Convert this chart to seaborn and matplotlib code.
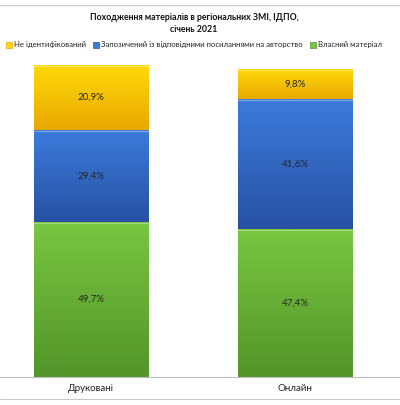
import numpy as np
import pandas as pd
import matplotlib
matplotlib.use("Agg")
import matplotlib.pyplot as plt
import matplotlib.colors as mcolors
from matplotlib.lines import Line2D
import seaborn as sns

# Data
categories = ["Друковані", "Онлайн"]
own = [49.7, 47.4]
borrowed = [29.4, 41.6]
unknown = [20.9, 9.8]
series_names = ["Не ідентифікований",
                "Запозичений із відповідними посиланнями на авторство",
                "Власний матеріал"]

sns.set_theme(style="white")
plt.rcParams["font.family"] = ["Lato", "DejaVu Sans"]

df = pd.DataFrame({"cat": categories, "own": own,
                   "borrowed": borrowed, "unknown": unknown})
df["c_own"] = df["own"]
df["c_borrowed"] = df["own"] + df["borrowed"]
df["c_unknown"] = df["c_borrowed"] + df["unknown"]

# top / bottom gradient colours
grad = {
    "unknown": ("#FFDA0A", "#E9A800"),
    "borrowed": ("#3C7BDB", "#2851A3"),
    "own": ("#79C641", "#53952A"),
}

fig = plt.figure(figsize=(4.0, 4.05), dpi=100)
ax = fig.add_axes([0, 28 / 405, 1, 312 / 405])

bars = {}
for key in ["unknown", "borrowed", "own"]:
    n0 = len(ax.patches)
    sns.barplot(data=df, x="cat", y="c_" + key, color=grad[key][0],
                width=0.56, ax=ax, saturation=1, edgecolor="none",
                linewidth=0)
    bars[key] = ax.patches[n0:]

# gradient fill clipped to each bar segment
for key, lo_col in [("unknown", "c_borrowed"), ("borrowed", "c_own"), ("own", None)]:
    cmap = mcolors.LinearSegmentedColormap.from_list(key, [grad[key][1], grad[key][0]])
    for i, p in enumerate(bars[key]):
        x0 = p.get_x()
        w = p.get_width()
        top = p.get_height()
        bot = df[lo_col][i] if lo_col else 0
        g = np.linspace(0, 1, 100).reshape(-1, 1)
        im = ax.imshow(g, cmap=cmap, aspect="auto", origin="lower",
                       extent=[x0, x0 + w, bot, top], zorder=2)
        rect = plt.Rectangle((x0, bot), w, top - bot, transform=ax.transData)
        im.set_clip_path(rect)
        ax.add_line(Line2D([x0, x0 + w], [top - 0.3, top - 0.3],
                           color="white", alpha=0.35, lw=0.8, zorder=3))
ax.set_xlim(-0.446, 1.515)
ax.set_ylim(0, 100)

# value labels
for i in range(len(categories)):
    for key, lo in [("own", 0), ("borrowed", df["c_own"][i]),
                    ("unknown", df["c_borrowed"][i])]:
        v = df[key][i]
        ax.text(i, lo + v / 2, f"{v:.1f}%".replace(".", ","),
                ha="center", va="center", fontsize=7, color="#262626", zorder=4)

ax.set_xlabel("")
ax.set_ylabel("")
ax.set_yticks([])
ax.set_xticks(range(len(categories)))
ax.set_xticklabels(categories, fontsize=7, color="#222222")
ax.tick_params(axis="x", length=0, pad=5)
for s in ["top", "left", "right"]:
    ax.spines[s].set_visible(False)
ax.spines["bottom"].set_color("#BFBFBF")
ax.spines["bottom"].set_linewidth(0.8)

# outer frame lines
fig.add_artist(Line2D([0, 1], [1 - 5 / 405, 1 - 5 / 405], color="#C8C8C8", lw=0.8))
fig.add_artist(Line2D([0, 1], [6 / 405, 6 / 405], color="#C8C8C8", lw=0.8))

fig.text(0.485, 1 - 17 / 405, "Походження матеріалів в регіональних ЗМІ, ІДПО,",
         ha="center", va="center", fontsize=6.3, fontweight="bold", color="#111111")
fig.text(0.485, 1 - 29 / 405, "січень 2021",
         ha="center", va="center", fontsize=6.3, fontweight="bold", color="#111111")

handles = [plt.Rectangle((0, 0), 1, 1, facecolor=grad[k][0], edgecolor=grad[k][1], lw=0.5)
           for k in ["unknown", "borrowed", "own"]]
fig.legend(handles, series_names, loc="center", bbox_to_anchor=(0.485, 1 - 45 / 405),
           ncol=3, frameon=False, fontsize=5.6, handlelength=0.75, handleheight=0.75,
           handletextpad=0.3, columnspacing=0.9, labelcolor="#222222",
           borderpad=0, borderaxespad=0)

fig.savefig("out.png", dpi=100)
